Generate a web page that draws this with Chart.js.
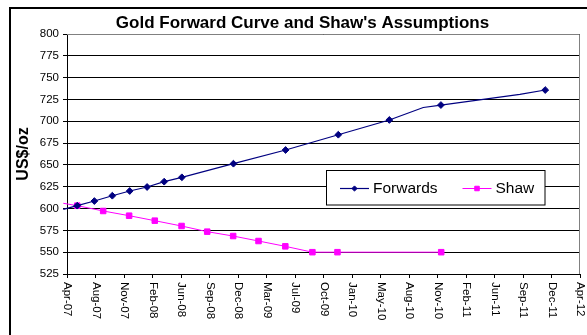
<!DOCTYPE html>
<html>
<head>
<meta charset="utf-8">
<script src="https://cdn.jsdelivr.net/npm/chart.js@4/dist/chart.umd.min.js"></script>
<style>
  html, body { margin: 0; padding: 0; background: #fff; }
  #wrap { width: 587px; height: 335px; position: relative; }
</style>
</head>
<body>
<div id="wrap"><canvas id="c"></canvas></div>
<script>
// ---- data ----
const chartTitle = "Gold Forward Curve and Shaw's Assumptions";
const yAxisTitle = 'US$/oz';

// Forward curve (US$/oz); points flagged false are curve bends drawn without a marker
const forwardName = 'Forwards';
const forwardDates  = ['2007-04-16','2007-06-04','2007-08-03','2007-10-05','2007-12-05','2008-02-04','2008-04-04','2008-06-05','2008-12-03','2009-06-04','2009-12-06','2010-06-03','2010-09-30','2010-12-01','2011-09-04','2011-12-02'];
const forwardPrices = [599.0, 603.3, 608.6, 614.7, 620.1, 624.7, 630.8, 635.8, 651.4, 667.1, 684.6, 701.5, 715.8, 718.6, 730.9, 735.8];
const forwardMarked = [false, true, true, true, true, true, true, true, true, true, true, true, false, true, false, true];

// Shaw's price assumptions (US$/oz)
const shawName = 'Shaw';
const shawDates  = ['2007-04-16','2007-06-04','2007-09-03','2007-12-03','2008-03-02','2008-06-04','2008-09-02','2008-12-02','2009-03-01','2009-06-03','2009-09-06','2009-12-03','2010-12-02'];
const shawPrices = [606.0, 603.3, 597.2, 591.8, 586.1, 580.0, 573.5, 568.5, 562.8, 556.7, 550.0, 550.0, 550.0];
const shawMarked = [false, true, true, true, true, true, true, true, true, true, true, true, true];

// Date axis: first tick date, spacing in days, and the tick labels
const xAxisStart = '2007-04-29';
const xTickStepDays = 100;
const xTickLabels = ['Apr-07','Aug-07','Nov-07','Feb-08','Jun-08','Sep-08','Dec-08','Mar-09','Jul-09','Oct-09','Jan-10','May-10','Aug-10','Nov-10','Feb-11','Jun-11','Sep-11','Dec-11','Apr-12'];

// Value axis
const yMin = 525, yMax = 800, yStep = 25;

// ---- helpers ----
const FONT = '"Liberation Sans", Arial, Helvetica, sans-serif';
function dayNumber(iso) {
  const [y, m, d] = iso.split('-').map(Number);
  return Date.UTC(y, m - 1, d) / 86400000;
}
function toPoints(dates, values) {
  return dates.map((d, i) => ({ x: dayNumber(d), y: values[i] }));
}
const xStart = dayNumber(xAxisStart);
const xEnd = xStart + (xTickLabels.length - 1) * xTickStepDays;

const NAVY = '#000080';
const MAGENTA = '#FF00FF';

// Frame, plot border, rotated date labels, title and legend box
const decorations = {
  id: 'decorations',
  beforeDraw(chart) {
    const ctx = chart.ctx;
    ctx.save();
    ctx.strokeStyle = '#000';
    ctx.lineWidth = 2;
    ctx.strokeRect(10, 8, chart.width + 20, chart.height + 20);
    ctx.restore();
  },
  afterDatasetsDraw(chart) {
    const ctx = chart.ctx;
    const area = chart.chartArea;
    const xs = chart.scales.x;

    // plot area border (top and right)
    ctx.save();
    ctx.strokeStyle = '#808080';
    ctx.lineWidth = 1;
    ctx.beginPath();
    ctx.moveTo(area.left, Math.round(area.top) + 0.5);
    ctx.lineTo(area.right - 0.5, Math.round(area.top) + 0.5);
    ctx.lineTo(area.right - 0.5, area.bottom);
    ctx.stroke();
    ctx.restore();

    // date labels, reading top to bottom
    ctx.save();
    ctx.fillStyle = '#000';
    ctx.font = '11.5px ' + FONT;
    ctx.textAlign = 'left';
    ctx.textBaseline = 'middle';
    xs.ticks.forEach((t, i) => {
      const px = xs.getPixelForValue(t.value);
      ctx.save();
      ctx.translate(px + 0.5, area.bottom + 8);
      ctx.rotate(Math.PI / 2);
      ctx.fillText(xTickLabels[i], 0, 0);
      ctx.restore();
    });
    ctx.restore();

    // chart title
    ctx.save();
    ctx.fillStyle = '#000';
    ctx.font = 'bold 17px ' + FONT;
    ctx.textAlign = 'center';
    ctx.textBaseline = 'alphabetic';
    ctx.fillText(chartTitle, 302.5, 28);
    ctx.restore();

    // legend box inside the plot area
    const box = { x: 326.5, y: 170.5, w: 218.5, h: 34.5 };
    ctx.save();
    ctx.fillStyle = '#fff';
    ctx.fillRect(box.x, box.y, box.w, box.h);
    ctx.strokeStyle = '#000';
    ctx.lineWidth = 1;
    ctx.strokeRect(box.x, box.y, box.w, box.h);
    const sampleStarts = [340, 462.5];
    const cy = 188.5;
    chart.data.datasets.forEach((ds, i) => {
      const x0 = sampleStarts[i];
      ctx.strokeStyle = ds.borderColor;
      ctx.lineWidth = ds.borderWidth;
      ctx.beginPath();
      ctx.moveTo(x0, cy);
      ctx.lineTo(x0 + 29, cy);
      ctx.stroke();
      ctx.fillStyle = ds.pointBackgroundColor;
      ctx.strokeStyle = ds.pointBorderColor;
      ctx.lineWidth = 1;
      Chart.helpers.drawPoint(ctx, {
        pointStyle: ds.pointStyle,
        radius: ds.legendRadius,
        borderWidth: 1,
        rotation: 0
      }, x0 + 14.5, cy);
      ctx.fillStyle = '#000';
      ctx.font = '15.5px ' + FONT;
      ctx.textAlign = 'left';
      ctx.textBaseline = 'alphabetic';
      ctx.fillText(ds.label, x0 + 33, 192.5);
    });
    ctx.restore();
  }
};

new Chart(document.getElementById('c'), {
  type: 'line',
  data: {
    datasets: [
      {
        label: forwardName,
        data: toPoints(forwardDates, forwardPrices),
        borderColor: NAVY,
        borderWidth: 1.2,
        pointStyle: 'rectRot',
        pointRadius: forwardMarked.map(m => m ? 3.4 : 0),
        pointBackgroundColor: NAVY,
        pointBorderColor: NAVY,
        pointBorderWidth: 1,
        legendRadius: 2.6,
        tension: 0,
        clip: 6
      },
      {
        label: shawName,
        data: toPoints(shawDates, shawPrices),
        borderColor: MAGENTA,
        borderWidth: 1,
        pointStyle: 'rect',
        pointRadius: shawMarked.map(m => m ? 3.9 : 0),
        pointBackgroundColor: MAGENTA,
        pointBorderColor: MAGENTA,
        pointBorderWidth: 1,
        legendRadius: 3.2,
        tension: 0,
        clip: 6
      }
    ]
  },
  options: {
    responsive: true,
    maintainAspectRatio: false,
    animation: false,
    events: [],
    layout: { padding: { left: 0, top: 34, right: 7, bottom: 0 } },
    plugins: {
      legend: { display: false },
      title: { display: false },
      tooltip: { enabled: false }
    },
    scales: {
      x: {
        type: 'linear',
        min: xStart,
        max: xEnd,
        afterBuildTicks(scale) {
          scale.ticks = xTickLabels.map((_, i) => ({ value: xStart + i * xTickStepDays }));
        },
        afterFit(scale) { scale.height = 61; },
        ticks: { display: false },
        grid: {
          drawOnChartArea: false,
          drawTicks: true,
          tickLength: 4,
          tickColor: '#000',
          lineWidth: 1
        },
        border: { display: true, color: '#000', width: 1 }
      },
      y: {
        type: 'linear',
        min: yMin,
        max: yMax,
        ticks: {
          stepSize: yStep,
          color: '#000',
          padding: 4,
          font: { family: FONT, size: 11.5 }
        },
        afterFit(scale) { scale.width = 67; },
        grid: {
          color: '#000',
          lineWidth: 1,
          drawTicks: true,
          tickLength: 4,
          tickColor: '#000'
        },
        border: { display: true, color: '#000', width: 1 },
        title: {
          display: true,
          text: yAxisTitle,
          color: '#000',
          font: { family: FONT, size: 16, weight: 'bold' },
          padding: { top: 14, bottom: 0 }
        }
      }
    }
  },
  plugins: [decorations]
});
</script>
</body>
</html>
